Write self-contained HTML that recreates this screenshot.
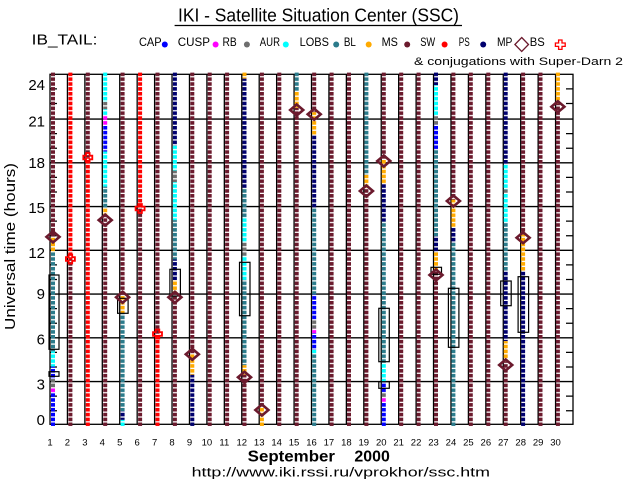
<!DOCTYPE html>
<html><head><meta charset="utf-8"><style>
html,body{margin:0;padding:0;background:#fff;}
svg{display:block;}
text{font-family:"Liberation Sans",sans-serif;fill:#000;}
</style></head><body>
<svg width="636" height="500" viewBox="0 0 636 500" xmlns="http://www.w3.org/2000/svg">
<defs>
<pattern id="M" patternUnits="userSpaceOnUse" x="0" y="422.5" width="636" height="4.8611"><rect width="636" height="3.6" fill="#6b1a2d"/></pattern>
<pattern id="R" patternUnits="userSpaceOnUse" x="0" y="422.5" width="636" height="4.8611"><rect width="636" height="3.6" fill="#ff0000"/></pattern>
<pattern id="N" patternUnits="userSpaceOnUse" x="0" y="422.5" width="636" height="4.8611"><rect width="636" height="3.6" fill="#00006e"/></pattern>
<pattern id="B" patternUnits="userSpaceOnUse" x="0" y="422.5" width="636" height="4.8611"><rect width="636" height="3.6" fill="#0000ff"/></pattern>
<pattern id="P" patternUnits="userSpaceOnUse" x="0" y="422.5" width="636" height="4.8611"><rect width="636" height="3.6" fill="#ff00ff"/></pattern>
<pattern id="G" patternUnits="userSpaceOnUse" x="0" y="422.5" width="636" height="4.8611"><rect width="636" height="3.6" fill="#6e6e6e"/></pattern>
<pattern id="C" patternUnits="userSpaceOnUse" x="0" y="422.5" width="636" height="4.8611"><rect width="636" height="3.6" fill="#00ffff"/></pattern>
<pattern id="T" patternUnits="userSpaceOnUse" x="0" y="422.5" width="636" height="4.8611"><rect width="636" height="3.6" fill="#2b7b8b"/></pattern>
<pattern id="O" patternUnits="userSpaceOnUse" x="0" y="422.5" width="636" height="4.8611"><rect width="636" height="3.6" fill="#ffaa00"/></pattern>
<polygon id="dm" points="0,-5.5 6.5,0 0,5.5 -6.5,0" fill="none" stroke="#6b1a2d" stroke-width="2.6"/>
<polygon id="bs" points="-1.8,-4.5 1.8,-4.5 1.8,-1.8 4.5,-1.8 4.5,1.8 1.8,1.8 1.8,4.5 -1.8,4.5 -1.8,1.8 -4.5,1.8 -4.5,-1.8 -1.8,-1.8" fill="none" stroke="#ff0000" stroke-width="1.8"/>
</defs>
<rect width="636" height="500" fill="#fff"/>

<!-- Title -->
<text x="178" y="21.7" font-size="18.5" textLength="281" lengthAdjust="spacingAndGlyphs">IKI - Satellite Situation Center (SSC)</text>
<line x1="174.6" y1="25.5" x2="462" y2="25.5" stroke="#000" stroke-width="1.2"/>
<text x="31.7" y="44.3" font-size="15" textLength="65.7" lengthAdjust="spacingAndGlyphs">IB_TAIL:</text>

<!-- Legend -->
<g font-size="12">
<text x="139" y="46" textLength="22.6" lengthAdjust="spacingAndGlyphs">CAP</text>
<circle cx="164.8" cy="44.5" r="3" fill="#0000ff"/>
<text x="177.8" y="46" textLength="32.2" lengthAdjust="spacingAndGlyphs">CUSP</text>
<circle cx="215.6" cy="44.5" r="3" fill="#ff00ff"/>
<text x="222.5" y="46" textLength="14.2" lengthAdjust="spacingAndGlyphs">RB</text>
<circle cx="246.9" cy="44.5" r="3" fill="#6e6e6e"/>
<text x="259.8" y="46" textLength="20.2" lengthAdjust="spacingAndGlyphs">AUR</text>
<circle cx="285.8" cy="44.5" r="3" fill="#00ffff"/>
<text x="299.6" y="46" textLength="29.3" lengthAdjust="spacingAndGlyphs">LOBS</text>
<circle cx="336.2" cy="44.5" r="3" fill="#2b7b8b"/>
<text x="343.9" y="46" textLength="12" lengthAdjust="spacingAndGlyphs">BL</text>
<circle cx="368.7" cy="44.5" r="3" fill="#ffaa00"/>
<text x="381.6" y="46" textLength="16.3" lengthAdjust="spacingAndGlyphs">MS</text>
<circle cx="407.2" cy="44.5" r="3" fill="#6b1a2d"/>
<text x="420.2" y="46" textLength="15" lengthAdjust="spacingAndGlyphs">SW</text>
<circle cx="444.6" cy="44.5" r="3" fill="#ff0000"/>
<text x="458.8" y="46" textLength="11" lengthAdjust="spacingAndGlyphs">PS</text>
<circle cx="483.2" cy="44.5" r="3" fill="#00006e"/>
<text x="497" y="46" textLength="15.4" lengthAdjust="spacingAndGlyphs">MP</text>
<polygon points="521.7,37.5 528.5,44.5 521.7,51.5 514.9,44.5" fill="none" stroke="#6b1a2d" stroke-width="1.3"/>
<text x="529.8" y="46" textLength="15" lengthAdjust="spacingAndGlyphs">BS</text>
<polygon points="558.6,40 562,40 562,43 565.2,43 565.2,46.4 562,46.4 562,49.4 558.6,49.4 558.6,46.4 555.4,46.4 555.4,43 558.6,43" fill="none" stroke="#ff0000" stroke-width="1.3"/>
</g>
<text x="414" y="65" font-size="11" textLength="209" lengthAdjust="spacingAndGlyphs">&amp; conjugations with Super-Darn 2</text>

<!-- Grid -->
<g stroke="#000" stroke-width="1.3" fill="none">
<rect x="50" y="74.3" width="523" height="350"/>
<line x1="50" y1="119.05" x2="573" y2="119.05"/>
<line x1="50" y1="162.8" x2="573" y2="162.8"/>
<line x1="50" y1="206.55" x2="573" y2="206.55"/>
<line x1="50" y1="250.3" x2="573" y2="250.3"/>
<line x1="50" y1="294.05" x2="573" y2="294.05"/>
<line x1="50" y1="337.8" x2="573" y2="337.8"/>
<line x1="50" y1="381.55" x2="573" y2="381.55"/>
<path d="M67.43 74.3V424.3M84.87 74.3V424.3M102.3 74.3V424.3M119.73 74.3V424.3M137.17 74.3V424.3M154.6 74.3V424.3M172.03 74.3V424.3M189.47 74.3V424.3M206.9 74.3V424.3M224.33 74.3V424.3M241.77 74.3V424.3M259.2 74.3V424.3M276.63 74.3V424.3M294.07 74.3V424.3M311.5 74.3V424.3M328.93 74.3V424.3M346.37 74.3V424.3M363.8 74.3V424.3M381.23 74.3V424.3M398.67 74.3V424.3M416.1 74.3V424.3M433.53 74.3V424.3M450.97 74.3V424.3M468.4 74.3V424.3M485.83 74.3V424.3M503.27 74.3V424.3M520.7 74.3V424.3M538.13 74.3V424.3M555.57 74.3V424.3"/>
<path d="M50 88.88H57M50 103.47H57M50 133.63H57M50 148.22H57M50 177.38H57M50 191.97H57M50 221.13H57M50 235.72H57M50 264.88H57M50 279.47H57M50 308.63H57M50 323.22H57M50 352.38H57M50 366.97H57M50 396.13H57M50 410.72H57
M566 88.88H573M566 103.47H573M566 133.63H573M566 148.22H573M566 177.38H573M566 191.97H573M566 221.13H573M566 235.72H573M566 264.88H573M566 279.47H573M566 308.63H573M566 323.22H573M566 352.38H573M566 366.97H573M566 396.13H573M566 410.72H573"/>
</g>

<!-- Y labels -->
<g font-size="15" text-anchor="end">
<text x="45" y="90">24</text>
<text x="45" y="126.5">21</text>
<text x="45" y="168">18</text>
<text x="45" y="213">15</text>
<text x="45" y="258">12</text>
<text x="45" y="299">9</text>
<text x="45" y="344.5">6</text>
<text x="45" y="389.5">3</text>
<text x="45" y="425">0</text>
</g>
<text transform="translate(15,246.5) rotate(-90)" text-anchor="middle" font-size="15" textLength="167" lengthAdjust="spacingAndGlyphs">Universal time (hours)</text>

<!-- Data columns -->
<g stroke-width="4" fill="none">
<g transform="translate(53,0)">
<line x1="0" x2="0" y1="72.6" y2="236.91" stroke="url(#M)"/>
<line x1="0" x2="0" y1="236.91" y2="252.22" stroke="url(#O)"/>
<line x1="0" x2="0" y1="252.22" y2="351.38" stroke="url(#T)"/>
<line x1="0" x2="0" y1="351.38" y2="366.7" stroke="url(#C)"/>
<line x1="0" x2="0" y1="366.7" y2="379.09" stroke="url(#B)"/>
<line x1="0" x2="0" y1="379.09" y2="387.84" stroke="url(#G)"/>
<line x1="0" x2="0" y1="387.84" y2="392.22" stroke="url(#P)"/>
<line x1="0" x2="0" y1="392.22" y2="426" stroke="url(#B)"/>
</g>
<g transform="translate(70.4,0)">
<line x1="0" x2="0" y1="72.6" y2="259.51" stroke="url(#R)"/>
<line x1="0" x2="0" y1="259.51" y2="426" stroke="url(#M)"/>
</g>
<g transform="translate(87.8,0)">
<line x1="0" x2="0" y1="72.6" y2="157.43" stroke="url(#M)"/>
<line x1="0" x2="0" y1="157.43" y2="426" stroke="url(#R)"/>
</g>
<g transform="translate(105.2,0)">
<line x1="0" x2="0" y1="72.6" y2="102.02" stroke="url(#C)"/>
<line x1="0" x2="0" y1="102.02" y2="109.3" stroke="url(#G)"/>
<line x1="0" x2="0" y1="109.3" y2="115.14" stroke="url(#C)"/>
<line x1="0" x2="0" y1="115.14" y2="125.35" stroke="url(#P)"/>
<line x1="0" x2="0" y1="125.35" y2="151.6" stroke="url(#B)"/>
<line x1="0" x2="0" y1="151.6" y2="186.6" stroke="url(#C)"/>
<line x1="0" x2="0" y1="186.6" y2="208.47" stroke="url(#T)"/>
<line x1="0" x2="0" y1="208.47" y2="215.76" stroke="url(#O)"/>
<line x1="0" x2="0" y1="215.76" y2="426" stroke="url(#M)"/>
</g>
<g transform="translate(122.6,0)">
<line x1="0" x2="0" y1="72.6" y2="295.97" stroke="url(#M)"/>
<line x1="0" x2="0" y1="295.97" y2="313.47" stroke="url(#O)"/>
<line x1="0" x2="0" y1="313.47" y2="411.18" stroke="url(#T)"/>
<line x1="0" x2="0" y1="411.18" y2="419.93" stroke="url(#N)"/>
<line x1="0" x2="0" y1="419.93" y2="426" stroke="url(#C)"/>
</g>
<g transform="translate(140.1,0)">
<line x1="0" x2="0" y1="72.6" y2="208.47" stroke="url(#R)"/>
<line x1="0" x2="0" y1="208.47" y2="426" stroke="url(#M)"/>
</g>
<g transform="translate(157.5,0)">
<line x1="0" x2="0" y1="72.6" y2="333.89" stroke="url(#M)"/>
<line x1="0" x2="0" y1="333.89" y2="426" stroke="url(#R)"/>
</g>
<g transform="translate(174.9,0)">
<line x1="0" x2="0" y1="72.6" y2="145.76" stroke="url(#N)"/>
<line x1="0" x2="0" y1="145.76" y2="170.56" stroke="url(#C)"/>
<line x1="0" x2="0" y1="170.56" y2="182.22" stroke="url(#G)"/>
<line x1="0" x2="0" y1="182.22" y2="220.14" stroke="url(#C)"/>
<line x1="0" x2="0" y1="220.14" y2="259.51" stroke="url(#T)"/>
<line x1="0" x2="0" y1="259.51" y2="280" stroke="url(#N)"/>
<line x1="0" x2="0" y1="280" y2="293.05" stroke="url(#O)"/>
<line x1="0" x2="0" y1="293.05" y2="426" stroke="url(#M)"/>
</g>
<g transform="translate(192.3,0)">
<line x1="0" x2="0" y1="72.6" y2="354.3" stroke="url(#M)"/>
<line x1="0" x2="0" y1="354.3" y2="374.72" stroke="url(#O)"/>
<line x1="0" x2="0" y1="374.72" y2="426" stroke="url(#N)"/>
</g>
<line x1="209.7" x2="209.7" y1="72.6" y2="426" stroke="url(#M)"/>
<line x1="227.1" x2="227.1" y1="72.6" y2="426" stroke="url(#M)"/>
<g transform="translate(244.5,0)">
<line x1="0" x2="0" y1="72.6" y2="78.68" stroke="url(#O)"/>
<line x1="0" x2="0" y1="78.68" y2="188.06" stroke="url(#N)"/>
<line x1="0" x2="0" y1="188.06" y2="217.22" stroke="url(#T)"/>
<line x1="0" x2="0" y1="217.22" y2="242.74" stroke="url(#C)"/>
<line x1="0" x2="0" y1="242.74" y2="255.87" stroke="url(#G)"/>
<line x1="0" x2="0" y1="255.87" y2="279.93" stroke="url(#C)"/>
<line x1="0" x2="0" y1="279.93" y2="365.24" stroke="url(#T)"/>
<line x1="0" x2="0" y1="365.24" y2="374.72" stroke="url(#O)"/>
<line x1="0" x2="0" y1="374.72" y2="426" stroke="url(#M)"/>
</g>
<g transform="translate(261.9,0)">
<line x1="0" x2="0" y1="72.6" y2="406.8" stroke="url(#M)"/>
<line x1="0" x2="0" y1="406.8" y2="426" stroke="url(#O)"/>
</g>
<line x1="279.3" x2="279.3" y1="72.6" y2="426" stroke="url(#M)"/>
<g transform="translate(296.7,0)">
<line x1="0" x2="0" y1="72.6" y2="91.81" stroke="url(#T)"/>
<line x1="0" x2="0" y1="91.81" y2="107.85" stroke="url(#O)"/>
<line x1="0" x2="0" y1="107.85" y2="426" stroke="url(#M)"/>
</g>
<g transform="translate(314.2,0)">
<line x1="0" x2="0" y1="72.6" y2="112.22" stroke="url(#M)"/>
<line x1="0" x2="0" y1="112.22" y2="135.56" stroke="url(#O)"/>
<line x1="0" x2="0" y1="135.56" y2="208.47" stroke="url(#N)"/>
<line x1="0" x2="0" y1="208.47" y2="294.51" stroke="url(#T)"/>
<line x1="0" x2="0" y1="294.51" y2="320.03" stroke="url(#B)"/>
<line x1="0" x2="0" y1="320.03" y2="328.78" stroke="url(#G)"/>
<line x1="0" x2="0" y1="328.78" y2="333.16" stroke="url(#P)"/>
<line x1="0" x2="0" y1="333.16" y2="349.93" stroke="url(#B)"/>
<line x1="0" x2="0" y1="349.93" y2="353.57" stroke="url(#C)"/>
<line x1="0" x2="0" y1="353.57" y2="426" stroke="url(#T)"/>
</g>
<line x1="331.6" x2="331.6" y1="72.6" y2="426" stroke="url(#M)"/>
<line x1="349" x2="349" y1="72.6" y2="426" stroke="url(#M)"/>
<g transform="translate(366.4,0)">
<line x1="0" x2="0" y1="72.6" y2="174.93" stroke="url(#T)"/>
<line x1="0" x2="0" y1="174.93" y2="188.06" stroke="url(#O)"/>
<line x1="0" x2="0" y1="188.06" y2="426" stroke="url(#M)"/>
</g>
<g transform="translate(383.8,0)">
<line x1="0" x2="0" y1="72.6" y2="158.89" stroke="url(#M)"/>
<line x1="0" x2="0" y1="158.89" y2="183.68" stroke="url(#O)"/>
<line x1="0" x2="0" y1="183.68" y2="221.6" stroke="url(#N)"/>
<line x1="0" x2="0" y1="221.6" y2="363.05" stroke="url(#T)"/>
<line x1="0" x2="0" y1="363.05" y2="382.01" stroke="url(#C)"/>
<line x1="0" x2="0" y1="382.01" y2="392.22" stroke="url(#B)"/>
<line x1="0" x2="0" y1="392.22" y2="397.32" stroke="url(#G)"/>
<line x1="0" x2="0" y1="397.32" y2="402.43" stroke="url(#P)"/>
<line x1="0" x2="0" y1="402.43" y2="426" stroke="url(#B)"/>
</g>
<line x1="401.2" x2="401.2" y1="72.6" y2="426" stroke="url(#M)"/>
<line x1="418.6" x2="418.6" y1="72.6" y2="426" stroke="url(#M)"/>
<g transform="translate(436,0)">
<line x1="0" x2="0" y1="72.6" y2="85.24" stroke="url(#N)"/>
<line x1="0" x2="0" y1="85.24" y2="115.87" stroke="url(#C)"/>
<line x1="0" x2="0" y1="115.87" y2="124.62" stroke="url(#G)"/>
<line x1="0" x2="0" y1="124.62" y2="149.41" stroke="url(#B)"/>
<line x1="0" x2="0" y1="149.41" y2="236.18" stroke="url(#T)"/>
<line x1="0" x2="0" y1="236.18" y2="252.22" stroke="url(#N)"/>
<line x1="0" x2="0" y1="252.22" y2="271.18" stroke="url(#O)"/>
<line x1="0" x2="0" y1="271.18" y2="426" stroke="url(#M)"/>
</g>
<g transform="translate(453.4,0)">
<line x1="0" x2="0" y1="72.6" y2="199.72" stroke="url(#M)"/>
<line x1="0" x2="0" y1="199.72" y2="227.43" stroke="url(#O)"/>
<line x1="0" x2="0" y1="227.43" y2="242.74" stroke="url(#N)"/>
<line x1="0" x2="0" y1="242.74" y2="426" stroke="url(#T)"/>
</g>
<line x1="470.8" x2="470.8" y1="72.6" y2="426" stroke="url(#M)"/>
<line x1="488.3" x2="488.3" y1="72.6" y2="426" stroke="url(#M)"/>
<g transform="translate(505.7,0)">
<line x1="0" x2="0" y1="72.6" y2="164.72" stroke="url(#N)"/>
<line x1="0" x2="0" y1="164.72" y2="189.51" stroke="url(#C)"/>
<line x1="0" x2="0" y1="189.51" y2="193.89" stroke="url(#G)"/>
<line x1="0" x2="0" y1="193.89" y2="222.33" stroke="url(#C)"/>
<line x1="0" x2="0" y1="222.33" y2="270.45" stroke="url(#T)"/>
<line x1="0" x2="0" y1="270.45" y2="341.18" stroke="url(#N)"/>
<line x1="0" x2="0" y1="341.18" y2="361.59" stroke="url(#O)"/>
<line x1="0" x2="0" y1="361.59" y2="426" stroke="url(#M)"/>
</g>
<g transform="translate(523.1,0)">
<line x1="0" x2="0" y1="72.6" y2="234.72" stroke="url(#M)"/>
<line x1="0" x2="0" y1="234.72" y2="271.18" stroke="url(#O)"/>
<line x1="0" x2="0" y1="271.18" y2="426" stroke="url(#N)"/>
</g>
<line x1="540.5" x2="540.5" y1="72.6" y2="426" stroke="url(#M)"/>
<g transform="translate(557.9,0)">
<line x1="0" x2="0" y1="72.6" y2="103.47" stroke="url(#O)"/>
<line x1="0" x2="0" y1="103.47" y2="426" stroke="url(#M)"/>
</g>
</g>

<!-- Conjugation boxes -->
<g fill="none" stroke="#000" stroke-width="1.2">
<rect x="49" y="275" width="10" height="74.3"/>
<rect x="49" y="371.7" width="10" height="4.6"/>
<rect x="117.6" y="298.3" width="10.5" height="15"/>
<rect x="169.9" y="269.3" width="10.5" height="26.7"/>
<rect x="239.5" y="262.3" width="10.5" height="53.4"/>
<rect x="378.8" y="308.3" width="10.5" height="53.4"/>
<rect x="378.8" y="381.7" width="10.5" height="6.6"/>
<rect x="431" y="267.3" width="10.5" height="7"/>
<rect x="448.4" y="288.3" width="10.5" height="59"/>
<rect x="500.7" y="281" width="10.5" height="24.7"/>
<rect x="518.1" y="276.7" width="10.5" height="55.6"/>
</g>

<!-- MP diamonds -->
<use href="#dm" x="53" y="236.9"/>
<use href="#dm" x="105.2" y="220.1"/>
<use href="#dm" x="122.6" y="297.3"/>
<use href="#dm" x="174.9" y="297.3"/>
<use href="#dm" x="192.3" y="354.3"/>
<use href="#dm" x="244.5" y="377.3"/>
<use href="#dm" x="261.9" y="410"/>
<use href="#dm" x="296.7" y="110"/>
<use href="#dm" x="314.2" y="114.3"/>
<use href="#dm" x="366.4" y="191"/>
<use href="#dm" x="383.8" y="161"/>
<use href="#dm" x="436" y="275"/>
<use href="#dm" x="453.4" y="201"/>
<use href="#dm" x="505.7" y="365"/>
<use href="#dm" x="523.1" y="237.7"/>
<use href="#dm" x="557.9" y="106.7"/>

<!-- BS crosses -->
<use href="#bs" x="70.4" y="259"/>
<use href="#bs" x="87.8" y="157.5"/>
<use href="#bs" x="140.1" y="208.5"/>
<use href="#bs" x="157.5" y="334"/>

<!-- X labels -->
<g font-size="9.5" text-anchor="middle">
<text x="50" y="445.5">1</text><text x="67.43" y="445.5">2</text><text x="84.87" y="445.5">3</text><text x="102.3" y="445.5">4</text><text x="119.73" y="445.5">5</text><text x="137.17" y="445.5">6</text><text x="154.6" y="445.5">7</text><text x="172.03" y="445.5">8</text><text x="189.47" y="445.5">9</text><text x="206.9" y="445.5">10</text><text x="224.33" y="445.5">11</text><text x="241.77" y="445.5">12</text><text x="259.2" y="445.5">13</text><text x="276.63" y="445.5">14</text><text x="294.07" y="445.5">15</text><text x="311.5" y="445.5">16</text><text x="328.93" y="445.5">17</text><text x="346.37" y="445.5">18</text><text x="363.8" y="445.5">19</text><text x="381.23" y="445.5">20</text><text x="398.67" y="445.5">21</text><text x="416.1" y="445.5">22</text><text x="433.53" y="445.5">23</text><text x="450.97" y="445.5">24</text><text x="468.4" y="445.5">25</text><text x="485.83" y="445.5">26</text><text x="503.27" y="445.5">27</text><text x="520.7" y="445.5">28</text><text x="538.13" y="445.5">29</text><text x="555.57" y="445.5">30</text>
</g>
<text x="247.7" y="461.7" font-size="16" font-weight="bold" textLength="87.3" lengthAdjust="spacingAndGlyphs">September</text>
<text x="354.4" y="461.7" font-size="16" font-weight="bold" textLength="35.4" lengthAdjust="spacingAndGlyphs">2000</text>
<text x="191.6" y="476.5" font-size="13" textLength="298.4" lengthAdjust="spacingAndGlyphs">http://www.iki.rssi.ru/vprokhor/ssc.htm</text>
</svg>
</body></html>
